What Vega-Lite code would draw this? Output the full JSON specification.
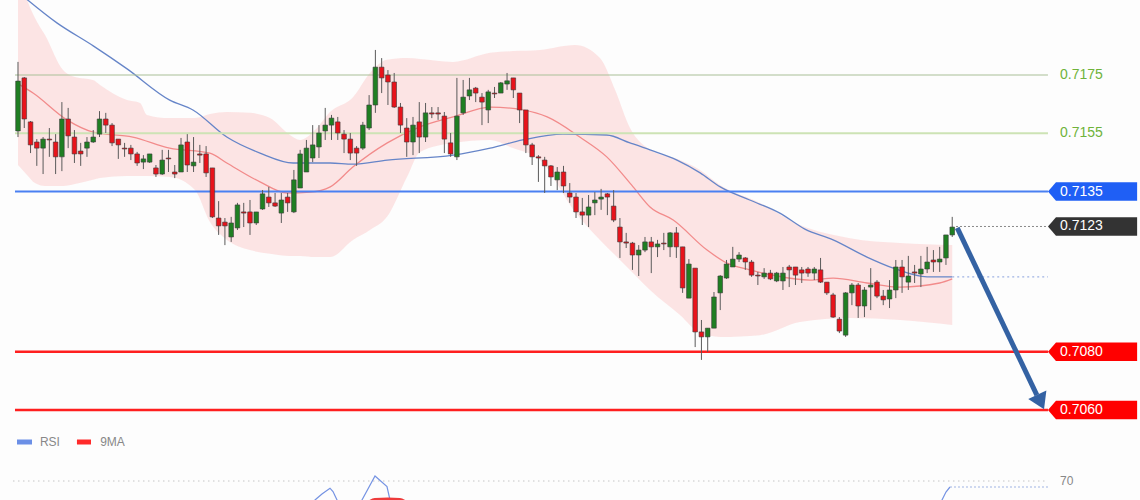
{
"$schema": "https://vega.github.io/schema/vega-lite/v6.json",
"width": 1140, "height": 500, "padding": 0,
"autosize": {"type": "none"},
"background": "#fdfdfd",
"config": {"view": {"stroke": null}, "text": {"font": "Liberation Sans"}, "scale": {"continuousPadding": 0}},
"resolve": {"scale": {"y": "independent"}},
"datasets": {
"candles": [
{"t":0,"o":0.71558,"c":0.71729,"h":0.71795,"l":0.71537},
{"t":1,"o":0.71740,"c":0.71599,"h":0.71743,"l":0.71568},
{"t":2,"o":0.71589,"c":0.71510,"h":0.71592,"l":0.71482},
{"t":3,"o":0.71520,"c":0.71499,"h":0.71530,"l":0.71438},
{"t":4,"o":0.71499,"c":0.71530,"h":0.71537,"l":0.71410},
{"t":5,"o":0.71530,"c":0.71527,"h":0.71568,"l":0.71469},
{"t":6,"o":0.71520,"c":0.71469,"h":0.71547,"l":0.71410},
{"t":7,"o":0.71469,"c":0.71599,"h":0.71657,"l":0.71420},
{"t":8,"o":0.71599,"c":0.71541,"h":0.71637,"l":0.71499},
{"t":9,"o":0.71537,"c":0.71479,"h":0.71561,"l":0.71448},
{"t":10,"o":0.71489,"c":0.71479,"h":0.71517,"l":0.71438},
{"t":11,"o":0.71499,"c":0.71520,"h":0.71537,"l":0.71469},
{"t":12,"o":0.71520,"c":0.71537,"h":0.71561,"l":0.71517},
{"t":13,"o":0.71547,"c":0.71599,"h":0.71626,"l":0.71537},
{"t":14,"o":0.71599,"c":0.71578,"h":0.71620,"l":0.71551},
{"t":15,"o":0.71578,"c":0.71517,"h":0.71585,"l":0.71506},
{"t":16,"o":0.71530,"c":0.71510,"h":0.71530,"l":0.71462},
{"t":17,"o":0.71499,"c":0.71496,"h":0.71517,"l":0.71469},
{"t":18,"o":0.71499,"c":0.71479,"h":0.71510,"l":0.71458},
{"t":19,"o":0.71479,"c":0.71448,"h":0.71486,"l":0.71438},
{"t":20,"o":0.71451,"c":0.71462,"h":0.71475,"l":0.71427},
{"t":21,"o":0.71451,"c":0.71479,"h":0.71479,"l":0.71448},
{"t":22,"o":0.71431,"c":0.71410,"h":0.71441,"l":0.71400},
{"t":23,"o":0.71410,"c":0.71458,"h":0.71493,"l":0.71407},
{"t":24,"o":0.71465,"c":0.71462,"h":0.71493,"l":0.71417},
{"t":25,"o":0.71417,"c":0.71410,"h":0.71441,"l":0.71396},
{"t":26,"o":0.71417,"c":0.71510,"h":0.71534,"l":0.71417},
{"t":27,"o":0.71520,"c":0.71441,"h":0.71547,"l":0.71417},
{"t":28,"o":0.71438,"c":0.71451,"h":0.71537,"l":0.71417},
{"t":29,"o":0.71479,"c":0.71475,"h":0.71510,"l":0.71448},
{"t":30,"o":0.71479,"c":0.71414,"h":0.71506,"l":0.71400},
{"t":31,"o":0.71431,"c":0.71263,"h":0.71431,"l":0.71259},
{"t":32,"o":0.71259,"c":0.71232,"h":0.71317,"l":0.71201},
{"t":33,"o":0.71245,"c":0.71232,"h":0.71259,"l":0.71166},
{"t":34,"o":0.71194,"c":0.71242,"h":0.71263,"l":0.71177},
{"t":35,"o":0.71225,"c":0.71304,"h":0.71311,"l":0.71218},
{"t":36,"o":0.71280,"c":0.71276,"h":0.71311,"l":0.71228},
{"t":37,"o":0.71280,"c":0.71242,"h":0.71321,"l":0.71201},
{"t":38,"o":0.71242,"c":0.71280,"h":0.71280,"l":0.71235},
{"t":39,"o":0.71290,"c":0.71342,"h":0.71355,"l":0.71287},
{"t":40,"o":0.71331,"c":0.71311,"h":0.71366,"l":0.71297},
{"t":41,"o":0.71311,"c":0.71300,"h":0.71345,"l":0.71297},
{"t":42,"o":0.71276,"c":0.71321,"h":0.71345,"l":0.71242},
{"t":43,"o":0.71331,"c":0.71311,"h":0.71345,"l":0.71280},
{"t":44,"o":0.71280,"c":0.71390,"h":0.71424,"l":0.71276},
{"t":45,"o":0.71362,"c":0.71479,"h":0.71493,"l":0.71362},
{"t":46,"o":0.71417,"c":0.71499,"h":0.71527,"l":0.71417},
{"t":47,"o":0.71465,"c":0.71510,"h":0.71578,"l":0.71451},
{"t":48,"o":0.71503,"c":0.71551,"h":0.71578,"l":0.71465},
{"t":49,"o":0.71558,"c":0.71578,"h":0.71637,"l":0.71527},
{"t":50,"o":0.71578,"c":0.71602,"h":0.71613,"l":0.71527},
{"t":51,"o":0.71589,"c":0.71551,"h":0.71606,"l":0.71527},
{"t":52,"o":0.71547,"c":0.71530,"h":0.71561,"l":0.71482},
{"t":53,"o":0.71530,"c":0.71482,"h":0.71551,"l":0.71458},
{"t":54,"o":0.71499,"c":0.71482,"h":0.71506,"l":0.71438},
{"t":55,"o":0.71499,"c":0.71578,"h":0.71589,"l":0.71493},
{"t":56,"o":0.71568,"c":0.71647,"h":0.71681,"l":0.71561},
{"t":57,"o":0.71647,"c":0.71777,"h":0.71836,"l":0.71620},
{"t":58,"o":0.71777,"c":0.71740,"h":0.71808,"l":0.71688},
{"t":59,"o":0.71750,"c":0.71726,"h":0.71767,"l":0.71647},
{"t":60,"o":0.71726,"c":0.71640,"h":0.71757,"l":0.71637},
{"t":61,"o":0.71640,"c":0.71578,"h":0.71654,"l":0.71551},
{"t":62,"o":0.71568,"c":0.71520,"h":0.71602,"l":0.71469},
{"t":63,"o":0.71520,"c":0.71578,"h":0.71606,"l":0.71475},
{"t":64,"o":0.71589,"c":0.71537,"h":0.71657,"l":0.71482},
{"t":65,"o":0.71537,"c":0.71620,"h":0.71654,"l":0.71520},
{"t":66,"o":0.71620,"c":0.71616,"h":0.71640,"l":0.71602},
{"t":67,"o":0.71620,"c":0.71616,"h":0.71640,"l":0.71596},
{"t":68,"o":0.71609,"c":0.71530,"h":0.71623,"l":0.71482},
{"t":69,"o":0.71517,"c":0.71479,"h":0.71551,"l":0.71469},
{"t":70,"o":0.71469,"c":0.71609,"h":0.71740,"l":0.71458},
{"t":71,"o":0.71620,"c":0.71674,"h":0.71733,"l":0.71613},
{"t":72,"o":0.71678,"c":0.71699,"h":0.71740,"l":0.71664},
{"t":73,"o":0.71705,"c":0.71688,"h":0.71709,"l":0.71657},
{"t":74,"o":0.71674,"c":0.71657,"h":0.71688,"l":0.71578},
{"t":75,"o":0.71630,"c":0.71692,"h":0.71699,"l":0.71585},
{"t":76,"o":0.71688,"c":0.71685,"h":0.71709,"l":0.71671},
{"t":77,"o":0.71688,"c":0.71723,"h":0.71726,"l":0.71688},
{"t":78,"o":0.71719,"c":0.71730,"h":0.71757,"l":0.71699},
{"t":79,"o":0.71740,"c":0.71699,"h":0.71740,"l":0.71671},
{"t":80,"o":0.71688,"c":0.71630,"h":0.71688,"l":0.71585},
{"t":81,"o":0.71630,"c":0.71510,"h":0.71630,"l":0.71482},
{"t":82,"o":0.71510,"c":0.71469,"h":0.71517,"l":0.71441},
{"t":83,"o":0.71469,"c":0.71465,"h":0.71475,"l":0.71383},
{"t":84,"o":0.71458,"c":0.71438,"h":0.71469,"l":0.71345},
{"t":85,"o":0.71438,"c":0.71400,"h":0.71441,"l":0.71369},
{"t":86,"o":0.71390,"c":0.71417,"h":0.71434,"l":0.71355},
{"t":87,"o":0.71417,"c":0.71369,"h":0.71438,"l":0.71345},
{"t":88,"o":0.71345,"c":0.71331,"h":0.71379,"l":0.71311},
{"t":89,"o":0.71331,"c":0.71280,"h":0.71345,"l":0.71259},
{"t":90,"o":0.71280,"c":0.71269,"h":0.71328,"l":0.71235},
{"t":91,"o":0.71269,"c":0.71297,"h":0.71338,"l":0.71228},
{"t":92,"o":0.71311,"c":0.71321,"h":0.71348,"l":0.71269},
{"t":93,"o":0.71324,"c":0.71331,"h":0.71359,"l":0.71287},
{"t":94,"o":0.71342,"c":0.71331,"h":0.71345,"l":0.71269},
{"t":95,"o":0.71300,"c":0.71252,"h":0.71355,"l":0.71245},
{"t":96,"o":0.71228,"c":0.71177,"h":0.71259,"l":0.71122},
{"t":97,"o":0.71177,"c":0.71173,"h":0.71208,"l":0.71156},
{"t":98,"o":0.71173,"c":0.71132,"h":0.71177,"l":0.71081},
{"t":99,"o":0.71132,"c":0.71149,"h":0.71166,"l":0.71060},
{"t":100,"o":0.71149,"c":0.71177,"h":0.71194,"l":0.71142},
{"t":101,"o":0.71177,"c":0.71160,"h":0.71194,"l":0.71070},
{"t":102,"o":0.71160,"c":0.71170,"h":0.71184,"l":0.71125},
{"t":103,"o":0.71173,"c":0.71170,"h":0.71208,"l":0.71149},
{"t":104,"o":0.71160,"c":0.71208,"h":0.71211,"l":0.71125},
{"t":105,"o":0.71208,"c":0.71160,"h":0.71228,"l":0.71122},
{"t":106,"o":0.71160,"c":0.71019,"h":0.71160,"l":0.71002},
{"t":107,"o":0.70984,"c":0.71101,"h":0.71118,"l":0.70984},
{"t":108,"o":0.71087,"c":0.70868,"h":0.71087,"l":0.70816},
{"t":109,"o":0.70868,"c":0.70851,"h":0.70909,"l":0.70772},
{"t":110,"o":0.70851,"c":0.70881,"h":0.70881,"l":0.70799},
{"t":111,"o":0.70881,"c":0.70988,"h":0.71005,"l":0.70881},
{"t":112,"o":0.71002,"c":0.71060,"h":0.71063,"l":0.70943},
{"t":113,"o":0.71053,"c":0.71101,"h":0.71115,"l":0.71050},
{"t":114,"o":0.71091,"c":0.71118,"h":0.71160,"l":0.71091},
{"t":115,"o":0.71118,"c":0.71132,"h":0.71142,"l":0.71108},
{"t":116,"o":0.71122,"c":0.71108,"h":0.71125,"l":0.71081},
{"t":117,"o":0.71108,"c":0.71063,"h":0.71115,"l":0.71057},
{"t":118,"o":0.71063,"c":0.71060,"h":0.71074,"l":0.71029},
{"t":119,"o":0.71057,"c":0.71070,"h":0.71087,"l":0.71050},
{"t":120,"o":0.71070,"c":0.71050,"h":0.71081,"l":0.71046},
{"t":121,"o":0.71043,"c":0.71070,"h":0.71074,"l":0.71039},
{"t":122,"o":0.71043,"c":0.71070,"h":0.71091,"l":0.71012},
{"t":123,"o":0.71091,"c":0.71081,"h":0.71098,"l":0.71022},
{"t":124,"o":0.71091,"c":0.71063,"h":0.71091,"l":0.71029},
{"t":125,"o":0.71081,"c":0.71070,"h":0.71091,"l":0.71036},
{"t":126,"o":0.71084,"c":0.71070,"h":0.71091,"l":0.71057},
{"t":127,"o":0.71070,"c":0.71084,"h":0.71091,"l":0.71046},
{"t":128,"o":0.71081,"c":0.71039,"h":0.71122,"l":0.71036},
{"t":129,"o":0.71039,"c":0.71002,"h":0.71039,"l":0.70995},
{"t":130,"o":0.70995,"c":0.70919,"h":0.71002,"l":0.70916},
{"t":131,"o":0.70912,"c":0.70871,"h":0.70919,"l":0.70864},
{"t":132,"o":0.70857,"c":0.71002,"h":0.71005,"l":0.70851},
{"t":133,"o":0.71002,"c":0.71029,"h":0.71036,"l":0.70960},
{"t":134,"o":0.71029,"c":0.70957,"h":0.71036,"l":0.70916},
{"t":135,"o":0.70957,"c":0.71012,"h":0.71022,"l":0.70919},
{"t":136,"o":0.71022,"c":0.71029,"h":0.71087,"l":0.70943},
{"t":137,"o":0.71039,"c":0.70991,"h":0.71046,"l":0.70984},
{"t":138,"o":0.70991,"c":0.70978,"h":0.71012,"l":0.70960},
{"t":139,"o":0.70981,"c":0.71012,"h":0.71046,"l":0.70950},
{"t":140,"o":0.71012,"c":0.71091,"h":0.71115,"l":0.70984},
{"t":141,"o":0.71091,"c":0.71057,"h":0.71115,"l":0.71002},
{"t":142,"o":0.71039,"c":0.71060,"h":0.71129,"l":0.71012},
{"t":143,"o":0.71074,"c":0.71070,"h":0.71098,"l":0.71036},
{"t":144,"o":0.71067,"c":0.71084,"h":0.71129,"l":0.71022},
{"t":145,"o":0.71084,"c":0.71108,"h":0.71160,"l":0.71070},
{"t":146,"o":0.71115,"c":0.71108,"h":0.71149,"l":0.71074},
{"t":147,"o":0.71108,"c":0.71118,"h":0.71160,"l":0.71074},
{"t":148,"o":0.71122,"c":0.71201,"h":0.71201,"l":0.71098},
{"t":149,"o":0.71201,"c":0.71228,"h":0.71263,"l":0.71194}
],
"band": [
{"t":0,"up":0.72111,"lo":0.71441},
{"t":1.44,"up":0.72008,"lo":0.71407},
{"t":2.71,"up":0.71946,"lo":0.71379},
{"t":4.31,"up":0.71887,"lo":0.71369},
{"t":7.18,"up":0.71767,"lo":0.71369},
{"t":9.09,"up":0.71743,"lo":0.71376},
{"t":11.96,"up":0.71733,"lo":0.71390},
{"t":13.08,"up":0.71716,"lo":0.71396},
{"t":17.38,"up":0.71664,"lo":0.71403},
{"t":19.46,"up":0.71654,"lo":0.71403},
{"t":20.57,"up":0.71613,"lo":0.71403},
{"t":24.24,"up":0.71602,"lo":0.71400},
{"t":28.23,"up":0.71602,"lo":0.71355},
{"t":30.62,"up":0.71616,"lo":0.71245},
{"t":33.33,"up":0.71623,"lo":0.71184},
{"t":37.00,"up":0.71620,"lo":0.71149},
{"t":40.19,"up":0.71602,"lo":0.71136},
{"t":43.38,"up":0.71544,"lo":0.71129},
{"t":44.98,"up":0.71527,"lo":0.71129},
{"t":47.37,"up":0.71561,"lo":0.71125},
{"t":49.76,"up":0.71623,"lo":0.71125},
{"t":53.43,"up":0.71674,"lo":0.71184},
{"t":56.14,"up":0.71757,"lo":0.71218},
{"t":58.85,"up":0.71802,"lo":0.71263},
{"t":62.04,"up":0.71808,"lo":0.71400},
{"t":64.11,"up":0.71805,"lo":0.71486},
{"t":69.38,"up":0.71795,"lo":0.71517},
{"t":75.28,"up":0.71826,"lo":0.71527},
{"t":78.95,"up":0.71832,"lo":0.71499},
{"t":83.25,"up":0.71836,"lo":0.71458},
{"t":88.84,"up":0.71853,"lo":0.71280},
{"t":92.82,"up":0.71808,"lo":0.71184},
{"t":95.22,"up":0.71699,"lo":0.71132},
{"t":97.61,"up":0.71568,"lo":0.71081},
{"t":100.80,"up":0.71493,"lo":0.71012},
{"t":105.58,"up":0.71458,"lo":0.70926},
{"t":108.77,"up":0.71424,"lo":0.70864},
{"t":111.96,"up":0.71372,"lo":0.70851},
{"t":118.34,"up":0.71311,"lo":0.70857},
{"t":124.72,"up":0.71235,"lo":0.70902},
{"t":132.70,"up":0.71190,"lo":0.70916},
{"t":140.67,"up":0.71173,"lo":0.70909},
{"t":149,"up":0.71166,"lo":0.70892}
],
"ma20": [
{"t":0.3,"p":0.71716},{"t":2.4,"p":0.71688},{"t":7.8,"p":0.71596},{"t":12.0,"p":0.71554},{"t":18.3,"p":0.71537},{"t":24.2,"p":0.71499},{"t":30.6,"p":0.71482},{"t":33.3,"p":0.71448},{"t":38.6,"p":0.71383},{"t":42.9,"p":0.71345},{"t":46.6,"p":0.71348},{"t":49.8,"p":0.71366},{"t":53.4,"p":0.71434},{"t":58.9,"p":0.71517},{"t":64.1,"p":0.71572},{"t":69.4,"p":0.71606},{"t":75.3,"p":0.71640},{"t":80.5,"p":0.71630},{"t":84.4,"p":0.71606},{"t":89.6,"p":0.71537},{"t":93.9,"p":0.71469},{"t":98.1,"p":0.71366},{"t":100.8,"p":0.71297},{"t":104.5,"p":0.71252},{"t":109.9,"p":0.71149},{"t":113.1,"p":0.71104},{"t":116.7,"p":0.71081},{"t":120.4,"p":0.71063},{"t":126.3,"p":0.71046},{"t":130.0,"p":0.71053},{"t":135.4,"p":0.71036},{"t":140.7,"p":0.71022},{"t":147.0,"p":0.71036},{"t":149,"p":0.71050}
],
"ma50": [
{"t":0,"p":0.72035},{"t":6.2,"p":0.71929},{"t":12.0,"p":0.71850},{"t":17.4,"p":0.71771},{"t":24.2,"p":0.71664},{"t":27.9,"p":0.71630},{"t":33.3,"p":0.71537},{"t":38.6,"p":0.71482},{"t":43.9,"p":0.71448},{"t":49.8,"p":0.71448},{"t":53.4,"p":0.71444},{"t":58.9,"p":0.71458},{"t":69.4,"p":0.71475},{"t":75.3,"p":0.71499},{"t":80.5,"p":0.71527},{"t":86.9,"p":0.71547},{"t":93.9,"p":0.71544},{"t":97.6,"p":0.71517},{"t":100.8,"p":0.71493},{"t":105.1,"p":0.71458},{"t":108.8,"p":0.71414},{"t":112.0,"p":0.71366},{"t":116.7,"p":0.71321},{"t":121.5,"p":0.71276},{"t":125.5,"p":0.71221},{"t":130.0,"p":0.71184},{"t":135.4,"p":0.71125},{"t":139.6,"p":0.71087},{"t":145.0,"p":0.71057},{"t":149,"p":0.71057}
],
"levels": [
{"p":0.7175,"lab":"0.7175","kind":"resistance"},
{"p":0.7155,"lab":"0.7155","kind":"resistance"},
{"p":0.7135,"lab":"0.7135","kind":"pivot"},
{"p":0.7123,"lab":"0.7123","kind":"last"},
{"p":0.7080,"lab":"0.7080","kind":"support"},
{"p":0.7060,"lab":"0.7060","kind":"support"}
],
"arrow": [{"t":149.8,"p":0.71225},{"t":162.5,"p":0.70651}],
"arrowhead": [{"t":162.97,"p":0.70634}],
"rsi": [
{"t":46.25,"v":55,"s":"a"},{"t":47.37,"v":60.5,"s":"a"},{"t":48.48,"v":63.5,"s":"a"},{"t":49.76,"v":66.4,"s":"a"},{"t":50.24,"v":64.7,"s":"a"},{"t":50.88,"v":60.5,"s":"a"},{"t":51.36,"v":55,"s":"a"},
{"t":54.23,"v":55,"s":"b"},{"t":54.86,"v":60.5,"s":"b"},{"t":56.94,"v":72.5,"s":"b"},{"t":58.85,"v":67.2,"s":"b"},{"t":59.33,"v":60.5,"s":"b"},{"t":59.81,"v":55,"s":"b"},
{"t":147.05,"v":55,"s":"c"},{"t":147.37,"v":60.5,"s":"c"},{"t":148.0,"v":64.5,"s":"c"},{"t":148.64,"v":67,"s":"c"}
],
"rsima": [{"t":56.0,"v":59.5},{"t":56.9,"v":60.8},{"t":59.0,"v":61.0},{"t":60.9,"v":60.8},{"t":61.8,"v":59.5}],
"rsilevel": [{"v":70,"lab":"70"}],
"legend": [{"lab":"RSI"},{"lab":"9MA"}]
},
"layer": [
{"data":{"name":"band"},"mark":{"type":"area","clip":true,"color":"#fbd0d0","opacity":0.55,"interpolate":"monotone"},
 "encoding":{"x":{"field":"t","type":"quantitative","scale":{"domain":[-2.8708,178.9474],"nice":false,"zero":false,"padding":0},"axis":null},
 "y":{"field":"up","type":"quantitative","scale":{"domain":[0.7029104,0.7200747],"nice":false,"zero":false},"axis":null},
 "y2":{"field":"lo"}}},
{"data":{"name":"ma20"},"mark":{"type":"line","clip":true,"color":"#f28b8b","strokeWidth":1.3,"interpolate":"monotone"},
 "encoding":{"x":{"field":"t","type":"quantitative","scale":{"domain":[-2.8708,178.9474],"nice":false,"zero":false,"padding":0},"axis":null},
 "y":{"field":"p","type":"quantitative","scale":{"domain":[0.7029104,0.7200747],"nice":false,"zero":false},"axis":null}}},
{"data":{"name":"ma50"},"mark":{"type":"line","clip":true,"color":"#6685c8","strokeWidth":1.3,"interpolate":"monotone"},
 "encoding":{"x":{"field":"t","type":"quantitative","scale":{"domain":[-2.8708,178.9474],"nice":false,"zero":false,"padding":0},"axis":null},
 "y":{"field":"p","type":"quantitative","scale":{"domain":[0.7029104,0.7200747],"nice":false,"zero":false},"axis":null}}},
{"data":{"name":"levels"},"transform":[{"filter":"datum.kind == 'resistance'"}],"mark":{"type":"rule"},
 "encoding":{"x":{"datum":-0.48,"type":"quantitative","scale":{"domain":[-2.8708,178.9474],"nice":false,"zero":false,"padding":0},"axis":null},
 "x2":{"datum":164.27},
 "y":{"field":"p","type":"quantitative","scale":{"domain":[0.7029104,0.7200747],"nice":false,"zero":false},"axis":null},
 "color":{"condition":{"test":"datum.p > 0.717","value":"#aabf98"},"value":"#cde3b5"},
 "strokeWidth":{"condition":{"test":"datum.p > 0.717","value":1.2},"value":2}}},
{"data":{"name":"levels"},"transform":[{"filter":"datum.kind == 'pivot'"}],"mark":{"type":"rule","color":"#4a80f2","strokeWidth":2},
 "encoding":{"x":{"datum":-0.48,"type":"quantitative","scale":{"domain":[-2.8708,178.9474],"nice":false,"zero":false,"padding":0},"axis":null},
 "x2":{"datum":164.27},
 "y":{"field":"p","type":"quantitative","scale":{"domain":[0.7029104,0.7200747],"nice":false,"zero":false},"axis":null}}},
{"data":{"name":"levels"},"transform":[{"filter":"datum.kind == 'support'"}],"mark":{"type":"rule","color":"#ff1f1f","strokeWidth":2.6},
 "encoding":{"x":{"datum":-0.48,"type":"quantitative","scale":{"domain":[-2.8708,178.9474],"nice":false,"zero":false,"padding":0},"axis":null},
 "x2":{"datum":164.27},
 "y":{"field":"p","type":"quantitative","scale":{"domain":[0.7029104,0.7200747],"nice":false,"zero":false},"axis":null}}},
{"data":{"name":"levels"},"transform":[{"filter":"datum.kind == 'last'"}],"mark":{"type":"rule","color":"#888888","strokeWidth":1,"strokeDash":[2,2]},
 "encoding":{"x":{"datum":149.6,"type":"quantitative","scale":{"domain":[-2.8708,178.9474],"nice":false,"zero":false,"padding":0},"axis":null},
 "x2":{"datum":164.0},
 "y":{"field":"p","type":"quantitative","scale":{"domain":[0.7029104,0.7200747],"nice":false,"zero":false},"axis":null}}},
{"data":{"name":"ma50"},"transform":[{"filter":"datum.t == 149"}],"mark":{"type":"rule","color":"#9fb3e3","strokeWidth":1.2,"strokeDash":[2,3]},
 "encoding":{"x":{"datum":149,"type":"quantitative","scale":{"domain":[-2.8708,178.9474],"nice":false,"zero":false,"padding":0},"axis":null},
 "x2":{"datum":164.27},
 "y":{"field":"p","type":"quantitative","scale":{"domain":[0.7029104,0.7200747],"nice":false,"zero":false},"axis":null}}},
{"data":{"name":"candles"},"mark":{"type":"rule","color":"#5a5a5a","strokeWidth":1},
 "encoding":{"x":{"field":"t","type":"quantitative","scale":{"domain":[-2.8708,178.9474],"nice":false,"zero":false,"padding":0},"axis":null},
 "y":{"field":"l","type":"quantitative","scale":{"domain":[0.7029104,0.7200747],"nice":false,"zero":false},"axis":null},
 "y2":{"field":"h"}}},
{"data":{"name":"candles"},"mark":{"type":"bar","width":4.6,"stroke":"#3a3a3a","strokeWidth":0.6},
 "encoding":{"x":{"field":"t","type":"quantitative","scale":{"domain":[-2.8708,178.9474],"nice":false,"zero":false,"padding":0},"axis":null},
 "y":{"field":"o","type":"quantitative","scale":{"domain":[0.7029104,0.7200747],"nice":false,"zero":false},"axis":null},
 "y2":{"field":"c"},
 "fill":{"condition":{"test":"datum.c > datum.o","value":"#1f7f22"},"value":"#e8131b"}}},
{"data":{"name":"levels"},"transform":[{"filter":"datum.kind == 'resistance'"}],"mark":{"type":"text","align":"left","baseline":"middle","fontSize":14,"color":"#6fb33a"},
 "encoding":{"x":{"datum":166.2,"type":"quantitative","scale":{"domain":[-2.8708,178.9474],"nice":false,"zero":false,"padding":0},"axis":null},
 "y":{"field":"p","type":"quantitative","scale":{"domain":[0.7029104,0.7200747],"nice":false,"zero":false},"axis":null},
 "text":{"field":"lab"}}},
{"data":{"name":"levels"},"transform":[{"filter":"datum.kind != 'resistance'"}],"mark":{"type":"point","filled":true,"opacity":1,"size":338,"shape":"M0,0L0.87,-1L9.7,-1L9.7,1L0.87,1Z"},
 "encoding":{"x":{"datum":164.27,"type":"quantitative","scale":{"domain":[-2.8708,178.9474],"nice":false,"zero":false,"padding":0},"axis":null},
 "y":{"field":"p","type":"quantitative","scale":{"domain":[0.7029104,0.7200747],"nice":false,"zero":false},"axis":null},
 "color":{"field":"kind","type":"nominal","scale":{"domain":["pivot","last","support"],"range":["#1f5ff5","#333333","#ff0000"]},"legend":null}}},
{"data":{"name":"levels"},"transform":[{"filter":"datum.kind != 'resistance'"}],"mark":{"type":"text","align":"left","baseline":"middle","fontSize":14,"color":"#ffffff"},
 "encoding":{"x":{"datum":166.2,"type":"quantitative","scale":{"domain":[-2.8708,178.9474],"nice":false,"zero":false,"padding":0},"axis":null},
 "y":{"field":"p","type":"quantitative","scale":{"domain":[0.7029104,0.7200747],"nice":false,"zero":false},"axis":null},
 "text":{"field":"lab"}}},
{"data":{"name":"arrow"},"mark":{"type":"line","color":"#3462a3","strokeWidth":5,"strokeCap":"butt"},
 "encoding":{"x":{"field":"t","type":"quantitative","scale":{"domain":[-2.8708,178.9474],"nice":false,"zero":false,"padding":0},"axis":null},
 "y":{"field":"p","type":"quantitative","scale":{"domain":[0.7029104,0.7200747],"nice":false,"zero":false},"axis":null}}},
{"data":{"name":"arrowhead"},"mark":{"type":"point","filled":true,"opacity":1,"color":"#3462a3","size":400,"angle":335,"shape":"M0,1L-1,-0.6L1,-0.6Z"},
 "encoding":{"x":{"field":"t","type":"quantitative","scale":{"domain":[-2.8708,178.9474],"nice":false,"zero":false,"padding":0},"axis":null},
 "y":{"field":"p","type":"quantitative","scale":{"domain":[0.7029104,0.7200747],"nice":false,"zero":false},"axis":null}}},
{"data":{"name":"rsilevel"},"mark":{"type":"rule","color":"#c5c5c5","strokeWidth":1,"strokeDash":[1.5,3.5]},
 "encoding":{"x":{"datum":-0.8,"type":"quantitative","scale":{"domain":[-2.8708,178.9474],"nice":false,"zero":false,"padding":0},"axis":null},
 "x2":{"datum":163.8},
 "y":{"field":"v","type":"quantitative","scale":{"domain":[60.5,310.5],"nice":false,"zero":false},"axis":null}}},
{"data":{"name":"rsi"},"mark":{"type":"line","clip":true,"color":"#7593e3","strokeWidth":1.2},
 "encoding":{"x":{"field":"t","type":"quantitative","scale":{"domain":[-2.8708,178.9474],"nice":false,"zero":false,"padding":0},"axis":null},
 "y":{"field":"v","type":"quantitative","scale":{"domain":[60.5,310.5],"nice":false,"zero":false},"axis":null},
 "detail":{"field":"s"}}},
{"data":{"name":"rsi"},"transform":[{"filter":"datum.t == 148.64"}],"mark":{"type":"rule","color":"#9fb3e3","strokeWidth":1.2,"strokeDash":[2,2]},
 "encoding":{"x":{"datum":148.64,"type":"quantitative","scale":{"domain":[-2.8708,178.9474],"nice":false,"zero":false,"padding":0},"axis":null},
 "x2":{"datum":164.27},
 "y":{"field":"v","type":"quantitative","scale":{"domain":[60.5,310.5],"nice":false,"zero":false},"axis":null}}},
{"data":{"name":"rsima"},"mark":{"type":"line","clip":true,"color":"#ee3b3b","strokeWidth":3,"interpolate":"monotone"},
 "encoding":{"x":{"field":"t","type":"quantitative","scale":{"domain":[-2.8708,178.9474],"nice":false,"zero":false,"padding":0},"axis":null},
 "y":{"field":"v","type":"quantitative","scale":{"domain":[60.5,310.5],"nice":false,"zero":false},"axis":null}}},
{"data":{"name":"rsilevel"},"mark":{"type":"text","align":"left","baseline":"middle","fontSize":12,"color":"#888888"},
 "encoding":{"x":{"datum":166.2,"type":"quantitative","scale":{"domain":[-2.8708,178.9474],"nice":false,"zero":false,"padding":0},"axis":null},
 "y":{"field":"v","type":"quantitative","scale":{"domain":[60.5,310.5],"nice":false,"zero":false},"axis":null},
 "text":{"field":"lab"}}},
{"data":{"name":"legend"},"transform":[{"filter":"datum.lab == 'RSI'"}],"mark":{"type":"rule","color":"#6b8fe6","strokeWidth":5},
 "encoding":{"x":{"datum":-0.16,"type":"quantitative","scale":{"domain":[-2.8708,178.9474],"nice":false,"zero":false,"padding":0},"axis":null},
 "x2":{"datum":2.23},
 "y":{"datum":89.5,"type":"quantitative","scale":{"domain":[60.5,310.5],"nice":false,"zero":false},"axis":null}}},
{"data":{"name":"legend"},"transform":[{"filter":"datum.lab == '9MA'"}],"mark":{"type":"rule","color":"#ff2a2a","strokeWidth":5},
 "encoding":{"x":{"datum":9.4,"type":"quantitative","scale":{"domain":[-2.8708,178.9474],"nice":false,"zero":false,"padding":0},"axis":null},
 "x2":{"datum":11.64},
 "y":{"datum":89.5,"type":"quantitative","scale":{"domain":[60.5,310.5],"nice":false,"zero":false},"axis":null}}},
{"data":{"name":"legend"},"transform":[{"filter":"datum.lab == 'RSI'"}],"mark":{"type":"text","align":"left","baseline":"middle","fontSize":12,"color":"#888888"},
 "encoding":{"x":{"datum":3.5,"type":"quantitative","scale":{"domain":[-2.8708,178.9474],"nice":false,"zero":false,"padding":0},"axis":null},
 "y":{"datum":89.5,"type":"quantitative","scale":{"domain":[60.5,310.5],"nice":false,"zero":false},"axis":null},
 "text":{"field":"lab"}}},
{"data":{"name":"legend"},"transform":[{"filter":"datum.lab == '9MA'"}],"mark":{"type":"text","align":"left","baseline":"middle","fontSize":12,"color":"#888888"},
 "encoding":{"x":{"datum":13.1,"type":"quantitative","scale":{"domain":[-2.8708,178.9474],"nice":false,"zero":false,"padding":0},"axis":null},
 "y":{"datum":89.5,"type":"quantitative","scale":{"domain":[60.5,310.5],"nice":false,"zero":false},"axis":null},
 "text":{"field":"lab"}}}
]
}
